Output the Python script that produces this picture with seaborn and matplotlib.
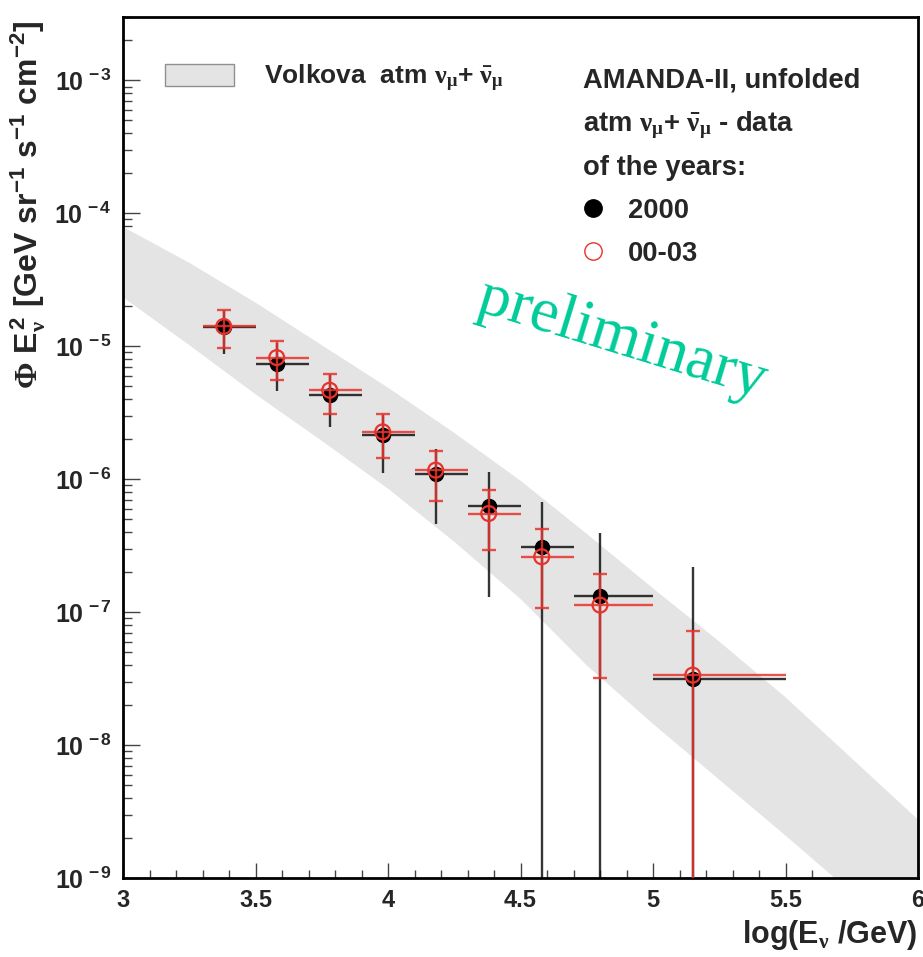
import numpy as np
import matplotlib
matplotlib.use("Agg")
import matplotlib.pyplot as plt
import seaborn as sns
from matplotlib.patches import Patch
from matplotlib.lines import Line2D
from matplotlib.ticker import FixedLocator, FuncFormatter, NullFormatter

# ---------------- data ----------------
# Volkova atmospheric band (log10 of flux at band edges)
band_logE = [3.0, 3.25, 3.5, 3.75, 4.0, 4.25, 4.5, 4.75, 5.0, 5.25, 5.5, 5.75, 6.0]
band_hi_log = [-4.10, -4.37, -4.67, -4.99, -5.31, -5.65, -6.01, -6.41, -6.82, -7.22, -7.64, -8.10, -8.56]
band_lo_log = [-4.63, -4.99, -5.36, -5.71, -6.07, -6.47, -6.90, -7.40, -7.84, -8.26, -8.68, -9.11, -9.55]

# energy bins
bin_lo = [3.3, 3.5, 3.7, 3.9, 4.1, 4.3, 4.5, 4.7, 5.0]
bin_hi = [3.5, 3.7, 3.9, 4.1, 4.3, 4.5, 4.7, 5.0, 5.5]
x_center = [3.38, 3.58, 3.78, 3.98, 4.18, 4.38, 4.58, 4.80, 5.15]

# year 2000
flux_2000 = [1.39e-5, 7.41e-6, 4.29e-6, 2.14e-6, 1.10e-6, 6.27e-7, 3.10e-7, 1.33e-7, 3.12e-8]
up_2000 = [1.89e-5, 1.05e-5, 6.05e-6, 3.05e-6, 1.70e-6, 1.135e-6, 6.76e-7, 3.95e-7, 2.17e-7]
lo_2000 = [8.7e-6, 4.61e-6, 2.47e-6, 1.11e-6, 4.59e-7, 1.30e-7, 0.0, 0.0, 0.0]

# years 00-03
flux_0003 = [1.41e-5, 8.22e-6, 4.67e-6, 2.27e-6, 1.17e-6, 5.52e-7, 2.61e-7, 1.13e-7, 3.36e-8]
up_0003 = [1.89e-5, 1.09e-5, 6.24e-6, 3.07e-6, 1.63e-6, 8.26e-7, 4.19e-7, 1.95e-7, 7.24e-8]
lo_0003 = [9.66e-6, 5.55e-6, 3.07e-6, 1.45e-6, 6.87e-7, 2.92e-7, 1.08e-7, 3.19e-8, 0.0]

x_ticks = [3, 3.5, 4, 4.5, 5, 5.5, 6]
y_decades = [-9, -8, -7, -6, -5, -4, -3]

# ---------------- style ----------------
sns.set_theme(style="ticks")
plt.rcParams["font.family"] = ["Liberation Sans", "DejaVu Sans"]
plt.rcParams["font.weight"] = "bold"
plt.rcParams["mathtext.fontset"] = "custom"
plt.rcParams["mathtext.rm"] = "Liberation Serif"
plt.rcParams["mathtext.it"] = "Liberation Serif:italic"
plt.rcParams["mathtext.bf"] = "Liberation Sans:bold"
plt.rcParams["mathtext.default"] = "regular"

BAND = "#e4e4e4"
RED = "#e8322c"
BLK = "#111111"

fig = plt.figure(figsize=(9.23, 9.57), dpi=100)
ax = fig.add_axes([123 / 923, 79 / 957, 795 / 923, 861 / 957])

ax.set_yscale("log")
ax.set_xlim(3, 6)
ax.set_ylim(1e-9, 3e-3)

# band
bx = np.array(band_logE)
ax.fill_between(bx, 10 ** np.array(band_lo_log), 10 ** np.array(band_hi_log),
                color=BAND, linewidth=0, zorder=1)

xc = np.array(x_center)
xerr = [xc - np.array(bin_lo), np.array(bin_hi) - xc]
FLOOR = 1e-13

def yerr(v, lo, hi):
    v = np.array(v); lo = np.maximum(np.array(lo), FLOOR); hi = np.array(hi)
    return [v - lo, hi - v]

# 2000 - black
ax.errorbar(xc, flux_2000, xerr=xerr, yerr=yerr(flux_2000, lo_2000, up_2000),
            fmt="none", ecolor=BLK, elinewidth=1.7, capsize=0, alpha=0.85, zorder=2)
sns.scatterplot(x=xc, y=flux_2000, ax=ax, color="black", edgecolor="black",
                s=105, marker="o", zorder=3, legend=False)

# 00-03 - red (caps only on vertical bars)
ax.errorbar(xc, flux_0003, xerr=xerr, fmt="none", ecolor=RED, elinewidth=1.7,
            capsize=0, alpha=0.85, zorder=4)
ax.errorbar(xc, flux_0003, yerr=yerr(flux_0003, lo_0003, up_0003),
            fmt="none", ecolor=RED, elinewidth=1.7, capsize=5.2, capthick=1.7,
            alpha=0.85, zorder=4)
sns.scatterplot(x=xc, y=flux_0003, ax=ax, facecolor="none", edgecolor=RED,
                linewidth=1.6, s=115, marker="o", zorder=5, legend=False)

# ---------------- axes ----------------
for sp in ax.spines.values():
    sp.set_linewidth(2.0)
    sp.set_color("black")
    sp.set_visible(True)

minor_x = [v / 10 for v in range(30, 61) if v % 5 != 0]
ax.xaxis.set_major_locator(FixedLocator(x_ticks))
ax.xaxis.set_minor_locator(FixedLocator(minor_x))
ax.xaxis.set_major_formatter(FuncFormatter(lambda v, p: "%g" % v))
ax.xaxis.set_minor_formatter(NullFormatter())

major_y = [10.0 ** d for d in y_decades]
minor_y = [m * 10.0 ** d for d in range(-9, -2) for m in range(2, 10) if m * 10.0 ** d <= 3e-3]
ax.yaxis.set_major_locator(FixedLocator(major_y))
ax.yaxis.set_minor_locator(FixedLocator(minor_y))
ax.yaxis.set_minor_formatter(NullFormatter())
ax.yaxis.set_major_formatter(FuncFormatter(lambda v, p: r"10$^{\,%d}$" % int(round(np.log10(v)))))

ax.tick_params(axis="both", which="both", direction="in", top=False, right=False,
               color="#444444")
ax.tick_params(axis="x", which="major", length=11, width=1.0, pad=8, labelsize=17)
ax.tick_params(axis="x", which="minor", length=5.5, width=1.0)
ax.tick_params(axis="y", which="major", length=12, width=1.0, pad=8, labelsize=18)
ax.tick_params(axis="y", which="minor", length=6.5, width=1.0)
for lab in ax.get_xticklabels() + ax.get_yticklabels():
    lab.set_fontweight("bold")

ax.set_xlabel(r"log(E$_{\mathrm{\nu}}$ /GeV)", fontsize=22, fontweight="bold",
              loc="right", labelpad=4)
ax.set_ylabel(r"$\mathrm{\Phi}$ E$_{\mathrm{\nu}}^{\,2}$ [GeV sr$^{-1}$ s$^{-1}$ cm$^{-2}$]",
              fontsize=23, fontweight="bold")
ax.yaxis.set_label_coords(-0.094, 0.782)

# ---------------- legends ----------------
h_band = Patch(facecolor=BAND, edgecolor="#909090", linewidth=1.0)
leg1 = ax.legend([h_band], [r"Volkova  atm $\mathrm{\nu_{\mu}}$+ $\mathrm{\bar{\nu}_{\mu}}$"],
                 loc="center left", bbox_to_anchor=(0.0528, 0.929), frameon=False,
                 borderpad=0, borderaxespad=0, handlelength=2.6, handleheight=0.9,
                 handletextpad=1.15, prop={"size": 19, "weight": "bold"})
ax.add_artist(leg1)

h_2000 = Line2D([], [], linestyle="none", marker="o", markersize=12.5,
                markerfacecolor="black", markeredgecolor="black")
h_0003 = Line2D([], [], linestyle="none", marker="o", markersize=12.5,
                markerfacecolor="none", markeredgecolor=RED, markeredgewidth=1.0)
leg2 = ax.legend([h_2000, h_0003], ["2000", "00-03"], loc="upper left",
                 bbox_to_anchor=(0.5786, 0.941), frameon=False, borderpad=0,
                 borderaxespad=0, handlelength=0.7, handletextpad=0.95,
                 labelspacing=0.62, prop={"size": 19.7, "weight": "bold"},
                 title="AMANDA-II, unfolded\n" + r"atm $\mathrm{\nu_{\mu}}$+ $\mathrm{\bar{\nu}_{\mu}}$ - data" + "\nof the years:",
                 title_fontproperties={"size": 19.7, "weight": "bold"}, alignment="left")
leg2.get_title().set_linespacing(1.7)

# ---------------- watermark ----------------
ax.text(0.628, 0.625, "preliminary", transform=ax.transAxes, rotation=-17,
        rotation_mode="anchor", ha="center", va="center", color="#00cc99",
        fontsize=46, fontfamily=["Liberation Serif", "DejaVu Serif"], fontweight="normal",
        zorder=6)

fig.savefig("out.png", dpi=100)
